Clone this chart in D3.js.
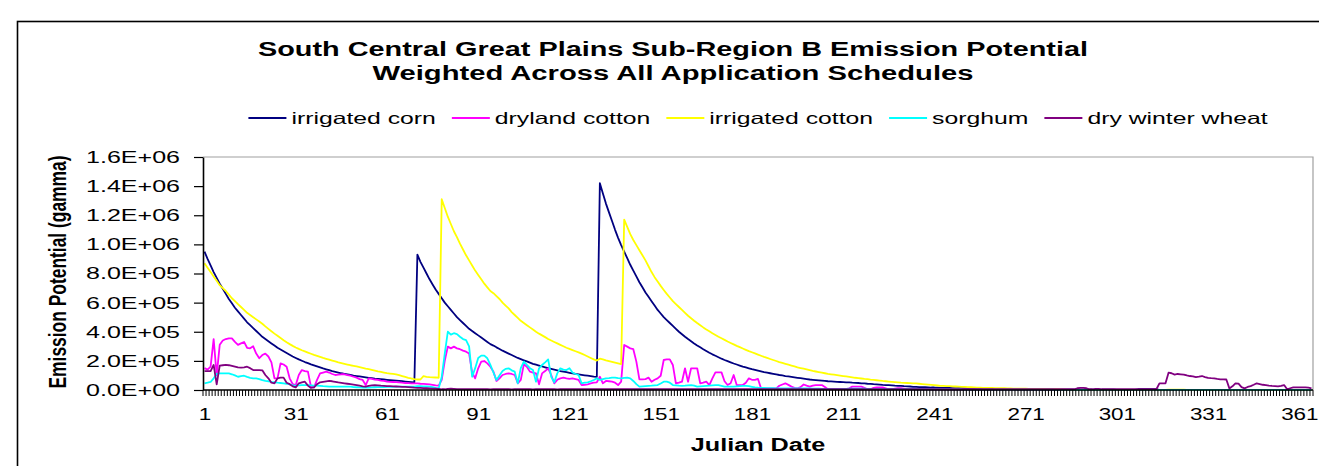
<!DOCTYPE html>
<html>
<head>
<meta charset="utf-8">
<script src="https://cdn.jsdelivr.net/npm/d3@7"></script>
<style>
  html, body { margin: 0; padding: 0; background: #fff; }
  svg { display: block; font-family: Arial, "Liberation Sans", sans-serif; }
</style>
</head>
<body>
<svg id="chart" width="1319" height="466"></svg>
<script>
// --- --- --- Data --- --- ---
// one value per Julian day (1..365), in units of 1E+04 gamma

const days = d3.range(1, 366);
const dayLabels = [1, 31, 61, 91, 121, 151, 181, 211, 241, 271, 301, 331, 361];
const yTicks = [0, 2e5, 4e5, 6e5, 8e5, 1e6, 1.2e6, 1.4e6, 1.6e6];
const titleLines = ["South Central Great Plains Sub-Region B Emission Potential",
                    "Weighted Across All Application Schedules"];
const seriesNames = ["irrigated corn", "dryland cotton", "irrigated cotton", "sorghum", "dry winter wheat"];
const seriesColors = ["#000080", "#ff00ff", "#ffff00", "#00ffff", "#800080"];

const irrigatedCorn = [
  95, 90, 85.5, 81, 77, 73, 69.5, 66, 62.5, 59.5,             // 1-10
  56.5, 54, 51.5, 49, 46.5, 44.5, 42.5, 40.5, 38.5, 36.5,     // 11-20
  35, 33.5, 32, 30.5, 29, 27.8, 26.6, 25.4, 24.2, 23,         // 21-30
  22, 21, 20.1, 19.2, 18.4, 17.6, 16.9, 16.2, 15.5, 14.8,     // 31-40
  14.2, 13.6, 13, 12.5, 12, 11.5, 11.1, 10.7, 10.3, 9.9,      // 41-50
  9.6, 9.3, 9, 8.7, 8.4, 8.1, 7.8, 7.6, 7.4, 7.2,             // 51-60
  7, 6.8, 6.6, 6.4, 6.2, 6, 5.8, 5.6, 5.4, 5.2,               // 61-70
  93, 88, 84, 80, 76, 72.5, 69, 66, 63, 60,                   // 71-80
  57.5, 55, 52.5, 50, 48, 46, 44, 42, 40.5, 39,               // 81-90
  37.5, 36, 34.5, 33, 31.5, 30.5, 29.3, 28.2, 27, 26,         // 91-100
  25, 24, 23, 22, 21.2, 20.4, 19.6, 18.8, 18, 17.4,           // 101-110
  16.8, 16.2, 15.6, 15, 14.5, 14, 13.5, 13, 12.6, 12.2,       // 111-120
  11.8, 11.4, 11, 10.7, 10.4, 10.1, 9.8, 9.5, 9.2, 9,         // 121-130
  142, 135, 128, 122, 116, 110, 104.5, 99.5, 95, 90.5,        // 131-140
  86, 82, 78, 74, 70.5, 67, 64, 61, 58, 55,                   // 141-150
  52.5, 50, 48, 46, 44, 42, 40, 38.3, 36.6, 35,               // 151-160
  33.5, 32, 30.6, 29.3, 28, 26.8, 25.6, 24.5, 23.5, 22.5,     // 161-170
  21.5, 20.6, 19.8, 19, 18.2, 17.5, 16.8, 16.1, 15.5, 14.9,   // 171-180
  14.3, 13.8, 13.3, 12.8, 12.3, 11.9, 11.5, 11.1, 10.7, 10.3, // 181-190
  10, 9.6, 9.3, 9, 8.7, 8.4, 8.1, 7.8, 7.5, 7.2,              // 191-200
  7, 6.8, 6.6, 6.4, 6.2, 6, 5.9, 5.8, 5.6, 5.5,               // 201-210
  5.4, 5.3, 5.2, 5, 4.9, 4.8, 4.6, 4.5, 4.3, 4.2,             // 211-220
  4, 3.9, 3.7, 3.5, 3.4, 3.3, 3.2, 3, 2.9, 2.8,               // 221-230
  2.6, 2.5, 2.4, 2.2, 2.1, 2, 1.9, 1.9, 1.8, 1.7,             // 231-240
  1.7, 1.6, 1.5, 1.5, 1.4, 1.4, 1.3, 1.3, 1.2, 1.2,           // 241-250
  1.1, 1.1, 1, 1, 1, 0.9, 0.9, 0.9, 0.8, 0.8,                 // 251-260
  0.8, 0.7, 0.7, 0.7, 0.6, 0.6, 0.6, 0.5, 0.5, 0.5,           // 261-270
  0.4, 0.4, 0.4, 0.3, 0.3, 0.3, 0.3, 0.2, 0.2, 0.2,           // 271-280
  0.2, 0.2, 0.2, 0.2, 0.2, 0.2, 0.2, 0.2, 0.2, 0.2,           // 281-290
  0.2, 0.2, 0.2, 0.2, 0.2, 0.2, 0.2, 0.2, 0.2, 0.2,           // 291-300
  0.1, 0.1, 0.1, 0.1, 0.1, 0.1, 0.1, 0.5, 0.5, 0.5,           // 301-310
  0.5, 0.5, 0.5, 0.5, 0.1, 0.1, 0.1, 0.1, 0.1, 0.1,           // 311-320
  0.1, 0.1, 0.1, 0.1, 0.1, 0.1, 0.1, 0.1, 0.1, 0.1,           // 321-330
  0.1, 0.1, 0.1, 0.1, 0.1, 0.1, 0.1, 0.1, 0.1, 0.1,           // 331-340
  0.1, 0.1, 0.1, 0.1, 0.1, 0.1, 0.1, 0.1, 0.1, 0.1,           // 341-350
  0.1, 0.1, 0.1, 0.1, 0.1, 0.1, 0.1, 0.1, 0.1, 0.1,           // 351-360
  0.1, 0.1, 0.1, 0.1, 0.1                                     // 361-365
];

const drylandCotton = [
  15, 14, 16, 35, 10, 31, 34, 35, 35.5, 35.5,                 // 1-10
  33, 31, 32, 33, 29, 28.6, 30, 25, 21.8, 24,                 // 11-20
  25, 23, 19, 8, 8, 18.3, 17.5, 16, 8, 4,                     // 21-30
  3.4, 10.3, 13.7, 13, 12.6, 2.3, 1.8, 7, 11.4, 12,           // 31-40
  12.6, 12, 11, 10.3, 10.5, 10.8, 10.8, 10.3, 9.8, 9.1,       // 41-50
  8.5, 7.5, 6.9, 3.4, 8, 7.6, 7.2, 6.9, 6.5, 6.2,             // 51-60
  5.7, 5.6, 5.5, 5.4, 5.3, 5, 4.8, 4.7, 4.6, 4.6,             // 61-70
  4.5, 4.3, 4.2, 4, 3.8, 3.5, 3.2, 3, 7, 20,                  // 71-80
  29.8, 28.6, 29.8, 28.6, 28, 27, 26.3, 25, 12, 8,            // 81-90
  14.9, 19.5, 19.9, 18.3, 16, 12.6, 6.2, 8, 10.3, 11,         // 91-100
  11.4, 11, 10.3, 4.6, 6.9, 17.6, 16, 12.6, 12, 11.4,         // 101-110
  3.9, 11.4, 13, 14.9, 10.3, 4.6, 7, 8, 8.5, 8,               // 111-120
  7.6, 8, 7.5, 6.9, 3.4, 3.6, 3.9, 4.5, 5, 5.3,               // 121-130
  9.1, 4.6, 6.2, 6, 5.7, 5, 3.4, 5.7, 30.9, 29.8,             // 131-140
  28.6, 28, 19.5, 7.3, 7.3, 7.5, 8.5, 5.7, 7, 8,              // 141-150
  9.8, 20.6, 21, 21, 17.2, 4.6, 5, 5.7, 14.9, 5.7,            // 151-160
  14.9, 14.9, 14.9, 4.6, 5, 5.7, 3.4, 8, 12.1, 12.1,          // 161-170
  12.1, 6, 3.4, 4.6, 10.3, 3.4, 3.4, 3.4, 5, 8,               // 171-180
  7, 6.9, 7.6, 1.1, 1.1, 1.1, 1.1, 1.1, 1.1, 2.9,             // 181-190
  3.8, 4.6, 3.5, 2.3, 1.5, 1.1, 2, 3.8, 3, 2.3,               // 191-200
  3, 3.4, 3.4, 3.4, 2, 0.6, 0.6, 0.6, 0.6, 0.6,               // 201-210
  0.6, 0.6, 1.2, 2.3, 2.3, 2.3, 2.3, 1.5, 0.5, 0.5,           // 211-220
  1.5, 1.8, 1.8, 1.8, 1.2, 0.5, 0.5, 1, 1.2, 1.2,             // 221-230
  1, 0.5, 0.4, 0.4, 0.4, 0.4, 0.4, 0.4, 0.4, 0.4,             // 231-240
  0.3, 0.3, 0.3, 0.3, 0.3, 0.3, 0.3, 0.3, 0.3, 0.3,           // 241-250
  0.2, 0.2, 0.2, 0.2, 0.2, 0.2, 0.2, 0.2, 0.2, 0.2,           // 251-260
  0.2, 0.2, 0.2, 0.2, 0.2, 0.2, 0.2, 0.2, 0.2, 0.2,           // 261-270
  0.2, 0.2, 0.2, 0.2, 0.2, 0.2, 0.2, 0.2, 0.2, 0.2,           // 271-280
  0.1, 0.1, 0.1, 0.1, 0.1, 0.1, 0.1, 0.1, 0.1, 0.1,           // 281-290
  0.1, 0.1, 0.1, 0.1, 0.1, 0.1, 0.1, 0.1, 0.1, 0.1,           // 291-300
  0.1, 0.1, 0.1, 0.1, 0.1, 0.1, 0.1, 0.1, 0.1, 0.1,           // 301-310
  0.1, 0.1, 0.1, 0.1, 0.1, 0.1, 0.1, 0.1, 0.1, 0.1,           // 311-320
  0.1, 0.1, 0.1, 0.1, 0.1, 0.1, 0.1, 0.1, 0.1, 0.1,           // 321-330
  0.1, 0.1, 0.1, 0.1, 0.1, 0.1, 0.1, 0.1, 0.1, 0.1,           // 331-340
  0.1, 0.1, 0.1, 0.1, 0.1, 0.1, 0.1, 0.1, 0.1, 0.1,           // 341-350
  0.1, 0.1, 0.1, 0.1, 0.1, 0.1, 0.1, 0.1, 0.1, 0.1,           // 351-360
  0.1, 0.1, 0.1, 0.1, 0.1                                     // 361-365
];

const irrigatedCotton = [
  87, 84, 81, 78, 75, 72, 70, 68, 65.5, 63,                   // 1-10
  61, 59, 57, 55, 53, 51.5, 50, 48.5, 47, 45.5,               // 11-20
  43.7, 42, 40.3, 38.7, 37.2, 35.7, 34.2, 32.8, 31.5, 30.3,   // 21-30
  29.2, 28.2, 27.3, 26.5, 25.7, 24.9, 24.1, 23.4, 22.7, 22,   // 31-40
  21.4, 20.8, 20.2, 19.6, 19, 18.5, 18, 17.5, 17, 16.6,       // 41-50
  16.2, 15.7, 15.2, 14.7, 14.3, 13.8, 13.3, 12.8, 12.4, 12,   // 51-60
  11.6, 11.3, 11, 10.7, 10.2, 9.6, 9, 8.4, 7.9, 7.5,          // 61-70
  7.2, 7.2, 9.5, 9, 8.8, 8.7, 8.6, 8.4, 131, 125,             // 71-80
  119, 114, 109, 105, 100.5, 96.5, 92.5, 89, 85.5, 82,        // 81-90
  79, 76, 73, 70.5, 68, 66.5, 64.5, 62.5, 60, 58,             // 91-100
  56, 53.5, 51.5, 49.5, 47.5, 46, 44.5, 43, 41.5, 40,         // 101-110
  38.7, 37.5, 36.3, 35, 34, 33, 32, 31, 30, 29,               // 111-120
  28.2, 27.4, 26.6, 25.8, 25, 24, 23, 22, 21, 20.2,           // 121-130
  21.5, 21, 20.3, 19.8, 19.3, 18.8, 18.3, 17.8, 117, 112,     // 131-140
  107, 103, 99.5, 96, 92.5, 89, 85, 81, 77.5, 74.5,           // 141-150
  71.5, 68.7, 66, 63.5, 61, 59, 57, 55, 53, 51,               // 151-160
  49.3, 47.6, 46, 44.5, 43, 41.6, 40.3, 39, 37.8, 36.6,       // 161-170
  35.5, 34.4, 33.3, 32.3, 31.3, 30.3, 29.4, 28.5, 27.6, 26.7, // 171-180
  25.9, 25.1, 24.3, 23.5, 22.7, 22, 21.3, 20.6, 19.9, 19.2,   // 181-190
  18.6, 18, 17.4, 16.8, 16.2, 15.6, 15.1, 14.6, 14.1, 13.6,   // 191-200
  13.1, 12.7, 12.3, 11.9, 11.5, 11.1, 10.8, 10.5, 10.2, 9.9,  // 201-210
  9.6, 9.3, 9, 8.7, 8.4, 8.2, 7.9, 7.6, 7.4, 7.1,             // 211-220
  6.9, 6.7, 6.5, 6.2, 6, 5.8, 5.6, 5.4, 5.2, 5,               // 221-230
  4.9, 4.8, 4.7, 4.6, 4.5, 4.3, 4.1, 3.9, 3.7, 3.5,           // 231-240
  3.3, 3.1, 2.9, 2.8, 2.7, 2.6, 2.5, 2.4, 2.3, 2.2,           // 241-250
  2.1, 2, 1.9, 1.8, 1.7, 1.6, 1.5, 1.5, 1.4, 1.4,             // 251-260
  1.3, 1.3, 1.2, 1.2, 1.1, 1.1, 1, 1, 0.9, 0.9,               // 261-270
  0.9, 0.8, 0.8, 0.8, 0.7, 0.7, 0.7, 0.6, 0.6, 0.6,           // 271-280
  0.5, 0.4, 0.3, 0.2, 0.1, 0, 0, 0, 0, 0,                     // 281-290
  0, 0, 0, 0, 0, 0, 0, 0, 0, 0,                               // 291-300
  0, 0, 0, 0, 0, 0, 0, 0, 0, 0,                               // 301-310
  0, 0, 0, 0, 0, 0, 0, 0.2, 0.2, 0.2,                         // 311-320
  0.2, 0.2, 0.2, 0, 0, 0, 0, 0, 0, 0,                         // 321-330
  0, 0, 0, 0, 0, 0, 0, 0, 0, 0,                               // 331-340
  0, 0, 0, 0, 0, 0, 0, 0, 0, 0,                               // 341-350
  0, 0, 0, 0, 0, 0, 0, 0, 0, 0,                               // 351-360
  0, 0, 0, 0, 0                                               // 361-365
];

const sorghum = [
  4.6, 5, 5.5, 8, 11, 11.4, 11.4, 11.4, 11.4, 10.8,           // 1-10
  10, 9.1, 9.5, 9.8, 9, 8.3, 8, 8, 7.5, 6.8,                  // 11-20
  6.2, 6, 5.6, 5.3, 5, 4.8, 4.6, 4.3, 3.8, 3.2,               // 21-30
  3, 3.2, 3.4, 3.4, 3.4, 3.2, 3, 3, 2.8, 2.6,                 // 31-40
  2.5, 2.3, 2.3, 2.3, 2.3, 2.3, 2.3, 2.3, 2.3, 2,             // 41-50
  1.9, 1.8, 1.6, 1.6, 1.7, 1.8, 1.9, 2, 2, 2,                 // 51-60
  2.1, 2.2, 2.2, 2.3, 2.3, 2.3, 2.3, 2.3, 2.3, 2.3,           // 61-70
  2.7, 2.6, 2.5, 2.4, 2.3, 2, 1.5, 1.1, 9, 25,                // 71-80
  40, 38, 39, 38.4, 36.6, 35, 34.3, 30, 9.1, 15,              // 81-90
  22, 23.6, 23.6, 21.8, 17.2, 12, 6.9, 10, 13, 14.5,          // 91-100
  14.9, 13.5, 12.6, 4.6, 15, 19.5, 17.2, 15, 13.7, 5.7,       // 101-110
  14.9, 17.2, 19, 21, 9, 5.3, 11.4, 14.9, 14, 13.7,           // 111-120
  14.9, 12, 11, 10.3, 4.6, 5, 5.3, 6, 6.9, 8,                 // 121-130
  6.9, 7.5, 8, 8.2, 8.5, 8.5, 8.2, 8, 8.3, 8.5,               // 131-140
  8, 6.2, 4, 2.3, 2.5, 2.7, 2.9, 3, 3.2, 3.4,                 // 141-150
  4.5, 5.7, 5.7, 5, 3.4, 3.2, 3, 2.9, 3, 3.2,                 // 151-160
  3.4, 3, 2.3, 2.5, 2.7, 2.9, 3, 3.2, 3.3, 3.4,               // 161-170
  2.9, 2.3, 2.3, 2.3, 2.3, 2.5, 2.7, 2.8, 2.9, 2.6,           // 171-180
  2.2, 1.8, 1.6, 1.5, 1.4, 1.3, 1.2, 1.2, 1.1, 1.1,           // 181-190
  1.1, 1.1, 1.1, 1.1, 1.1, 1.1, 1.1, 1.1, 1.1, 1.1,           // 191-200
  1, 1, 0.9, 0.8, 0.7, 0.6, 0.6, 0.6, 0.6, 0.6,               // 201-210
  0.7, 0.8, 0.9, 1, 1, 1, 1, 0.9, 0.8, 0.7,                   // 211-220
  0.5, 0.5, 0.5, 0.5, 0.5, 0.5, 0.5, 0.5, 0.5, 0.5,           // 221-230
  0.5, 0.5, 0.5, 0.5, 0.5, 0.5, 0.5, 0.5, 0.5, 0.5,           // 231-240
  0.5, 0.5, 0.5, 0.5, 0.5, 0.5, 0.5, 0.5, 0.5, 0.5,           // 241-250
  0.3, 0.3, 0.3, 0.3, 0.3, 0.3, 0.3, 0.3, 0.3, 0.3,           // 251-260
  0.3, 0.3, 0.3, 0.3, 0.3, 0.3, 0.3, 0.3, 0.3, 0.3,           // 261-270
  0.3, 0.3, 0.3, 0.3, 0.3, 0.3, 0.3, 0.3, 0.3, 0.3,           // 271-280
  0.1, 0.1, 0.1, 0.1, 0.1, 0.1, 0.1, 0.1, 0.1, 0.1,           // 281-290
  0.1, 0.1, 0.1, 0.1, 0.1, 0.1, 0.1, 0.1, 0.1, 0.1,           // 291-300
  0.1, 0.1, 0.1, 0.1, 0.1, 0.1, 0.1, 0.1, 0.1, 0.1,           // 301-310
  0.1, 0.1, 0.1, 0.1, 0.1, 0.1, 0.1, 0.1, 0.1, 0.1,           // 311-320
  0.1, 0.1, 0.1, 0.1, 0.1, 0.1, 0.1, 0.1, 0.1, 0.1,           // 321-330
  0.1, 0.1, 0.1, 0.1, 0.1, 0.1, 0.1, 0.1, 0.1, 0.1,           // 331-340
  0.1, 0.1, 0.1, 0.1, 0.1, 0.1, 0.1, 0.1, 0.1, 0.1,           // 341-350
  0.1, 0.1, 0.1, 0.1, 0.1, 0.1, 0.1, 0.1, 0.1, 0.1,           // 351-360
  0.1, 0.1, 0.1, 0.1, 0.1                                     // 361-365
];

const dryWinterWheat = [
  13, 13, 13, 17.2, 3.9, 16.7, 17, 17.2, 17, 16.5,            // 1-10
  16, 15.5, 15.3, 15.6, 16, 15, 13.7, 13.7, 13.7, 13.5,       // 11-20
  10.3, 8, 5, 4.6, 8, 8.5, 8.5, 5, 4, 2.5,                    // 21-30
  1.8, 4.6, 5.2, 5.7, 3, 1.4, 1.8, 4, 5.3, 5.6,               // 31-40
  5.9, 6.2, 6, 5.6, 5.2, 4.9, 4.6, 4.3, 4, 3.7,               // 41-50
  3.4, 3, 2.5, 2.3, 2.8, 3.2, 3.4, 3.2, 3, 2.9,               // 51-60
  2.7, 2.6, 2.5, 2.4, 2.3, 2.2, 2.1, 2, 1.8, 1.6,             // 61-70
  1.5, 1.4, 1.3, 1.2, 1.1, 1, 0.9, 0.7, 0.5, 0.5,             // 71-80
  0.8, 1, 0.8, 0.6, 0.5, 0.5, 0.5, 0.5, 0.5, 0.5,             // 81-90
  0.5, 0.6, 0.5, 0.5, 0.4, 0.5, 0.5, 0.6, 0.5, 0.5,           // 91-100
  0.5, 0.4, 0.5, 0.5, 0.6, 0.5, 0.5, 0.5, 0.4, 0.5,           // 101-110
  0.5, 0.5, 0.6, 0.5, 0.5, 0.5, 0.4, 0.5, 0.5, 0.5,           // 111-120
  0.5, 0.5, 0.5, 0.5, 0.5, 0.5, 0.5, 0.5, 0.5, 0.5,           // 121-130
  0.5, 0.5, 0.5, 0.5, 0.5, 0.5, 0.5, 0.5, 0.5, 0.5,           // 131-140
  0.5, 0.5, 0.5, 0.5, 0.5, 0.5, 0.5, 0.5, 0.5, 0.5,           // 141-150
  0.5, 0.5, 0.5, 0.5, 0.5, 0.5, 0.5, 0.5, 0.5, 0.5,           // 151-160
  0.5, 0.5, 0.5, 0.5, 0.5, 0.5, 0.5, 0.5, 0.5, 0.5,           // 161-170
  0.5, 0.5, 0.5, 0.5, 0.5, 0.5, 0.5, 0.5, 0.5, 0.5,           // 171-180
  0.5, 0.5, 0.5, 0.5, 0.5, 0.5, 0.5, 0.5, 0.5, 0.5,           // 181-190
  0.5, 0.5, 0.5, 0.5, 0.5, 0.5, 0.5, 0.5, 0.5, 0.5,           // 191-200
  0.5, 0.5, 0.5, 0.5, 0.5, 0.5, 0.5, 0.5, 0.5, 0.5,           // 201-210
  0.5, 0.5, 0.5, 0.5, 0.5, 0.5, 0.5, 0.5, 0.5, 0.5,           // 211-220
  0.5, 0.5, 0.5, 0.5, 0.5, 0.5, 0.5, 0.5, 0.5, 0.5,           // 221-230
  0.5, 0.5, 0.5, 0.5, 0.5, 0.5, 0.5, 0.5, 0.5, 0.5,           // 231-240
  0.5, 0.5, 0.5, 0.5, 0.5, 0.5, 0.5, 0.5, 0.5, 0.5,           // 241-250
  0.5, 0.5, 0.5, 0.5, 0.5, 0.5, 0.5, 0.5, 0.5, 0.5,           // 251-260
  0.5, 0.5, 0.5, 0.5, 0.5, 0.5, 0.5, 0.5, 0.5, 0.5,           // 261-270
  0.5, 0.5, 0.5, 0.5, 0.5, 0.5, 0.5, 0.5, 0.5, 0.5,           // 271-280
  0.5, 0.5, 0.5, 0.5, 0.5, 0.5, 0.5, 1.2, 1.5, 1.5,           // 281-290
  1.2, 0.5, 0.5, 0.8, 0.8, 0.5, 0.5, 0.5, 0.5, 0.5,           // 291-300
  0.5, 0.5, 0.5, 0.5, 0.5, 0.5, 0.5, 0.5, 0.5, 0.5,           // 301-310
  0.5, 0.5, 0.5, 0.5, 4.6, 4.6, 4.6, 11.9, 11.5, 10.6,        // 311-320
  11, 10.8, 10.6, 10, 9.6, 9.4, 8.9, 9.2, 9.6, 8.9,           // 321-330
  8.3, 8.1, 8, 7.6, 7.3, 7.3, 7.2, 1.1, 2.5, 4.6,             // 331-340
  4.4, 2, 1.1, 2.1, 2.7, 3.6, 4.6, 4.1, 3.6, 3.4,             // 341-350
  3, 2.8, 2.7, 2.5, 2.8, 3.4, 0.5, 1.2, 1.8, 1.8,             // 351-360
  1.8, 1.8, 1.8, 1.6, 1.1                                     // 361-365
];

const seriesValues = [irrigatedCorn, drylandCotton, irrigatedCotton, sorghum, dryWinterWheat];
const unit = 1e4;

// --- --- --- Layout --- --- ---

const svg = d3.select("#chart");
const plot = { left: 203, right: 1313, top: 157, bottom: 390 };
const stretchK = 1.4;   // the original picture is widened horizontally
const legendK = 1.5;

//widens a text selection by factor k (the source image is stretched)
function stretch(sel, k) {
  sel.each(function () {
    const len = this.getComputedTextLength();
    d3.select(this).attr("textLength", len * k).attr("lengthAdjust", "spacingAndGlyphs");
  });
}

function sciFormat(v) {
  if (v === 0) return "0.0E+00";
  const e = Math.floor(Math.log10(v) + 1e-9);
  const m = v / Math.pow(10, e);
  return m.toFixed(1) + "E+" + String(e).padStart(2, "0");
}

const x = d3.scalePoint().domain(days).range([plot.left, plot.right]).padding(0.5);
const y = d3.scaleLinear().domain([0, 1.6e6]).range([plot.bottom, plot.top]);

// outer chart border (right and bottom lie outside the picture)
svg.append("rect")
  .attr("x", 17.5).attr("y", 21.5)
  .attr("width", 1400).attr("height", 600)
  .attr("fill", "none").attr("stroke", "#000").attr("stroke-width", 1.6);

// title
const title = svg.append("g").attr("font-weight", "bold").attr("font-size", 19.5).attr("text-anchor", "middle");
const titleWidths = [830, 601];
titleLines.forEach((t, i) => {
  title.append("text")
    .attr("x", 673).attr("y", 55.5 + i * 24.5)
    .attr("textLength", titleWidths[i]).attr("lengthAdjust", "spacingAndGlyphs")
    .text(t);
});

// plot area frame (grey top/right)
svg.append("path")
  .attr("d", `M${plot.left},${plot.top}H${plot.right}V${plot.bottom}`)
  .attr("fill", "none").attr("stroke", "#a0a0a0").attr("stroke-width", 1.2);

// series lines
const line = d3.line()
  .x((d, i) => x(days[i]))
  .y(d => y(d * unit));

svg.append("g")
  .selectAll("path")
  .data(seriesValues)
  .join("path")
  .attr("d", line)
  .attr("fill", "none")
  .attr("stroke", (d, i) => seriesColors[i])
  .attr("stroke-width", 1.8)
  .attr("stroke-linejoin", "round");

// y axis
const yAxis = svg.append("g")
  .attr("transform", `translate(${plot.left},0)`)
  .call(d3.axisLeft(y).tickValues(yTicks).tickFormat(sciFormat).tickSize(9).tickSizeOuter(0).tickPadding(14));
yAxis.select(".domain").attr("stroke", "#000").attr("stroke-width", 1.6);
yAxis.selectAll(".tick line").attr("stroke", "#000").attr("stroke-width", 1.2);
yAxis.selectAll("text")
  .attr("font-size", 17).attr("font-family", "Arial, 'Liberation Sans', sans-serif").attr("fill", "#000")
  .attr("textLength", 94).attr("lengthAdjust", "spacingAndGlyphs");

// x axis: labels every 30 days, a tick mark on every category border
const xAxis = svg.append("g")
  .attr("transform", `translate(0,${plot.bottom})`)
  .call(d3.axisBottom(x).tickValues(dayLabels).tickSize(0).tickPadding(19));
xAxis.select(".domain").remove();
xAxis.selectAll("text")
  .attr("font-size", 16).attr("font-family", "Arial, 'Liberation Sans', sans-serif").attr("fill", "#000");
stretch(xAxis.selectAll("text"), stretchK);

const half = x.step() / 2;
xAxis.append("g")
  .selectAll("line")
  .data(days.concat([null]))
  .join("line")
  .attr("x1", d => d === null ? plot.right : x(d) - half)
  .attr("x2", d => d === null ? plot.right : x(d) - half)
  .attr("y1", 0).attr("y2", 6)
  .attr("stroke", "#000").attr("stroke-width", 1);
xAxis.append("line")
  .attr("x1", plot.left).attr("x2", plot.right)
  .attr("stroke", "#000").attr("stroke-width", 1.6);

// axis titles
svg.append("text")
  .attr("transform", "translate(66,272) scale(1.4,1) rotate(-90)")
  .attr("text-anchor", "middle").attr("font-weight", "bold").attr("font-size", 17)
  .attr("textLength", 233).attr("lengthAdjust", "spacingAndGlyphs")
  .text("Emission Potential (gamma)");

const xTitle = svg.append("text")
  .attr("x", 758).attr("y", 451)
  .attr("text-anchor", "middle").attr("font-weight", "bold").attr("font-size", 18)
  .text("Julian Date");
stretch(xTitle, stretchK);

// legend, centred over the plot area
const legend = svg.append("g").attr("font-size", 16.5);
const sampleLen = 38, sampleGap = 5, itemGap = 16;
const items = legend.selectAll("g")
  .data(seriesNames)
  .join("g");
items.append("line")
  .attr("x1", 0).attr("x2", sampleLen).attr("y1", 118).attr("y2", 118)
  .attr("stroke", (d, i) => seriesColors[i]).attr("stroke-width", 2);
const legendText = items.append("text")
  .attr("x", sampleLen + sampleGap).attr("y", 123.5)
  .text(d => d);

const widths = [];
legendText.each(function () {
  const w = this.getComputedTextLength() * legendK;
  d3.select(this).attr("textLength", w).attr("lengthAdjust", "spacingAndGlyphs");
  widths.push(sampleLen + sampleGap + w);
});
const total = d3.sum(widths) + itemGap * (widths.length - 1);
let cursor = (plot.left + plot.right) / 2 - total / 2;
items.attr("transform", (d, i) => {
  const tx = cursor;
  cursor += widths[i] + itemGap;
  return `translate(${tx},0)`;
});
</script>
</body>
</html>
